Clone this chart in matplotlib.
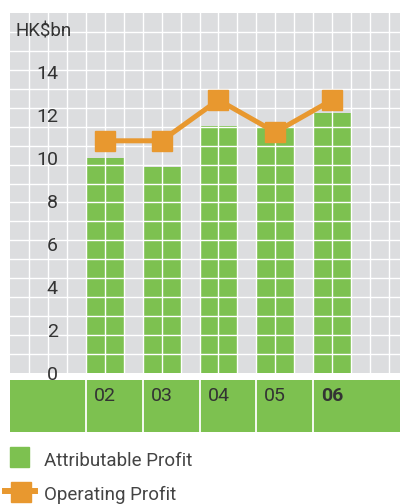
import matplotlib
matplotlib.use('Agg')
import matplotlib.pyplot as plt
from matplotlib.patches import Rectangle
from matplotlib.lines import Line2D

plt.rcParams['font.family'] = ['Roboto', 'DejaVu Sans']

years = ['02', '03', '04', '05', '06']
attributable = [10.0, 9.6, 11.5, 11.4, 12.1]
operating = [10.8, 10.8, 12.7, 11.2, 12.7]
yticks = [0, 2, 4, 6, 8, 10, 12, 14]

green = '#7DC150'
orange = '#E8982F'
gray = '#DCDDDF'
txt = '#333333'

W, H = 400, 504
fig = plt.figure(figsize=(W / 100, H / 100), dpi=100)


def box(x0, y0, x1, y1):
    # pixel box (top-left origin) -> figure fraction rect
    return [x0 / W, 1 - y1 / H, (x1 - x0) / W, (y1 - y0) / H]


cell = 18.95
ax = fig.add_axes(box(10, 13, 400, 373))
ax.set_facecolor(gray)
xmax = 390 / cell
ymax = 360 / 21.5
ax.set_xlim(0, xmax)
ax.set_ylim(0, ymax)
for s in ax.spines.values():
    s.set_visible(False)

# positions: one bar every 3 grid cells, starting at cell 5
xpos = [5 + 3 * i for i in range(len(years))]
ax.bar(xpos, attributable, width=2, color=green, zorder=1)

# white grid drawn over the bars
for i in range(1, 21):
    ax.axvline(i, color='white', lw=1.0, zorder=2)
for i in range(1, 19):
    ax.axhline(ymax * i / 19, color='white', lw=1.0, zorder=2)

ax.plot(xpos, operating, color=orange, lw=3.6, marker='s', markersize=13.7,
        zorder=3)

ax.set_xticks([])
ax.set_yticks(yticks)
ax.set_yticklabels([str(v) for v in yticks])
ax.tick_params(axis='y', length=0, pad=-34.5, labelsize=14, labelcolor=txt)
ax.yaxis.set_zorder(5)
for lab in ax.get_yticklabels():
    lab.set_clip_on(False)
ax.text(0.015, 15.9, 'HK$bn', fontsize=13.5, color=txt, ha='left',
        va='center', transform=ax.get_yaxis_transform(), zorder=5)

# year band
ax2 = fig.add_axes(box(10, 380, 400, 432))
ax2.set_facecolor(green)
ax2.set_xlim(0, xmax)
ax2.set_ylim(0, 1)
ax2.set_xticks([])
ax2.set_yticks([])
for s in ax2.spines.values():
    s.set_visible(False)
for x in xpos:
    ax2.axvline(x - 1, color='white', lw=1.3)
for x, y in zip(xpos, years):
    ax2.text(x, 0.70, y, ha='center', va='center', fontsize=14, color=txt,
             fontweight='bold' if y == '06' else 'normal')

# legend
fig.add_artist(Rectangle((10 / W, 1 - 467 / H), 19 / W, 20 / H,
                         transform=fig.transFigure, color=green))
fig.text(44 / W, 1 - 461 / H, 'Attributable Profit', fontsize=13.5,
         color='#444444', va='center', ha='left')
fig.add_artist(Line2D([5 / W, 35 / W], [1 - 491 / H, 1 - 491 / H],
                      transform=fig.transFigure, color=orange, lw=4.3))
fig.add_artist(Line2D([20.5 / W], [1 - 492 / H], transform=fig.transFigure,
                      color=orange, marker='s', markersize=14.4, lw=0))
fig.text(44 / W, 1 - 495 / H, 'Operating Profit', fontsize=13.5,
         color='#444444', va='center', ha='left')

fig.savefig('out.png', dpi=100)
